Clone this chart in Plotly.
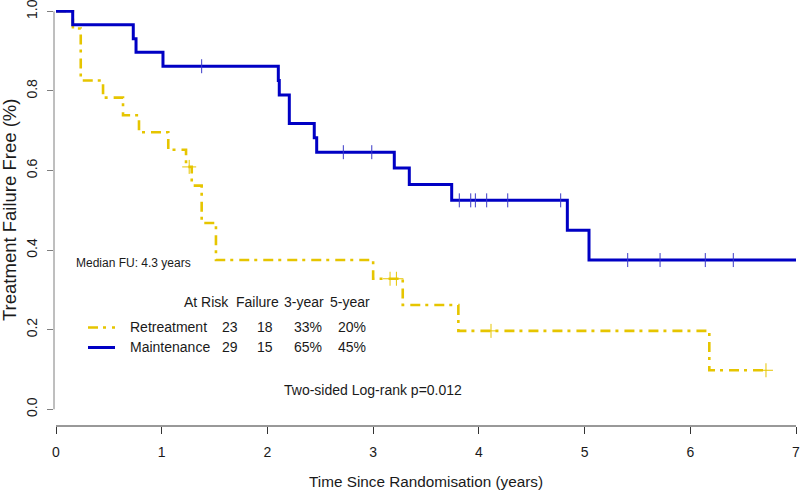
import plotly.graph_objects as go

# ---------------- data ----------------
retreat_times = [0.0, 0.16, 0.234, 0.445, 0.634, 0.785, 1.062, 1.230, 1.284, 1.378, 1.513, 3.000, 3.280, 3.806, 6.180, 6.716]
retreat_surv = [1.0, 0.957, 0.826, 0.783, 0.739, 0.696, 0.652, 0.609, 0.562, 0.468, 0.375, 0.328, 0.262, 0.197, 0.098, 0.098]
retreat_censor = [1.26, 3.16, 3.22, 4.115, 6.716]

maint_times = [0.0, 0.158, 0.731, 0.757, 1.012, 2.103, 2.112, 2.207, 2.443, 2.466, 3.200, 3.342, 3.743, 4.837, 5.042, 7.0]
maint_surv = [1.0, 0.966, 0.931, 0.897, 0.862, 0.826, 0.790, 0.718, 0.682, 0.646, 0.606, 0.565, 0.525, 0.450, 0.375, 0.375]
maint_censor = [1.378, 2.718, 2.987, 3.815, 3.923, 3.967, 4.074, 4.273, 4.774, 5.408, 5.714, 6.142, 6.407]

x_ticks = [0, 1, 2, 3, 4, 5, 6, 7]
y_ticks = [0.0, 0.2, 0.4, 0.6, 0.8, 1.0]
y_tick_labels = ["0.0", "0.2", "0.4", "0.6", "0.8", "1.0"]

legend_header = ["At Risk", "Failure", "3-year", "5-year"]
groups = ["Retreatment", "Maintenance"]
at_risk = ["23", "29"]
failures = ["18", "15"]
yr3 = ["33%", "65%"]
yr5 = ["20%", "45%"]

YELLOW = "#E6C500"
BLUE = "#0000C4"
FONT = "Liberation Sans, Arial, sans-serif"
TXT = "#1a1a1a"

# ---------------- layout geometry (pixels) ----------------
W, H = 800, 494
L, R, T, B = 54, 797, 10, 426
PPU = 740 / 7  # pixels per year


def px_x(p):
    return (p - L) / (R - L)


def px_y(p):
    return (B - p) / (B - T)


def step_value(times, surv, t):
    v = surv[0]
    for ti, si in zip(times, surv):
        if ti <= t:
            v = si
    return v


fig = go.Figure()

fig.add_trace(go.Scatter(
    x=retreat_times, y=retreat_surv, mode="lines", line_shape="hv",
    line=dict(color=YELLOW, width=2.6, dash="10px,5px,3px,6px"),
    hoverinfo="skip", showlegend=False))
fig.add_trace(go.Scatter(
    x=retreat_censor, y=[step_value(retreat_times, retreat_surv, t) for t in retreat_censor],
    mode="markers", marker=dict(symbol="cross-thin", size=10, line=dict(color=YELLOW, width=1)),
    hoverinfo="skip", showlegend=False))

fig.add_trace(go.Scatter(
    x=maint_times, y=maint_surv, mode="lines", line_shape="hv",
    line=dict(color=BLUE, width=3), hoverinfo="skip", showlegend=False))
fig.add_trace(go.Scatter(
    x=maint_censor, y=[step_value(maint_times, maint_surv, t) for t in maint_censor],
    mode="markers", marker=dict(symbol="line-ns", size=10, line=dict(color="#3a3ac8", width=1)),
    hoverinfo="skip", showlegend=False))

shapes = [
    # y axis line (R style, from 0 to 1)
    dict(type="line", xref="paper", yref="y", x0=0, x1=0, y0=0, y1=1,
         line=dict(color="#7f7f7f", width=1)),
    # x axis line (from 0 to 7)
    dict(type="line", xref="x", yref="paper", x0=0, x1=7, y0=0, y1=0,
         line=dict(color="#333333", width=1)),
    # legend samples
    dict(type="line", xref="paper", yref="paper", x0=px_x(88), x1=px_x(115),
         y0=px_y(327.5), y1=px_y(327.5),
         line=dict(color=YELLOW, width=2.6, dash="10px,5px,3px,6px")),
    dict(type="line", xref="paper", yref="paper", x0=px_x(88), x1=px_x(115),
         y0=px_y(347.5), y1=px_y(347.5), line=dict(color=BLUE, width=3)),
]

annotations = []


def add_text(text, xc, yc, size, anchor="center", angle=0):
    annotations.append(dict(
        text=text, xref="paper", yref="paper", x=px_x(xc), y=px_y(yc),
        xanchor=anchor, yanchor="middle", showarrow=False, textangle=angle,
        font=dict(family=FONT, size=size, color=TXT)))


# axis titles
add_text("Time Since Randomisation (years)", 425.5, 481.5, 15.3)
add_text("Treatment Failure Free (%)", 10, 210, 18.5, angle=-90)

# notes
add_text("Median FU: 4.3 years", 74, 262.7, 12, anchor="left")
add_text("Two-sided Log-rank p=0.012", 373.3, 390, 14)

# legend table
hdr_x = [206.7, 257.5, 304, 350]
for h, xc in zip(legend_header, hdr_x):
    add_text(h, xc, 301.7, 14)
row_y = [327.3, 347.3]
for i in range(2):
    add_text(groups[i], 127.7, row_y[i], 14, anchor="left")
    add_text(at_risk[i], 229.7, row_y[i], 14)
    add_text(failures[i], 264.5, row_y[i], 14)
    add_text(yr3[i], 308.2, row_y[i], 14)
    add_text(yr5[i], 351.5, row_y[i], 14)

fig.update_layout(
    width=W, height=H,
    margin=dict(l=L, r=W - R, t=T, b=H - B, pad=0, autoexpand=False),
    paper_bgcolor="white", plot_bgcolor="white",
    shapes=shapes, annotations=annotations,
    xaxis=dict(range=[-2 / PPU, 7.0 + 1 / PPU], tickmode="array", tickvals=x_ticks,
               ticktext=[str(v) for v in x_ticks],
               showgrid=False, zeroline=False, showline=False,
               ticks="outside", ticklen=7, tickcolor="#333333", tickwidth=1,
               ticklabelstandoff=6, automargin=False, ticklabeloverflow="allow",
               tickfont=dict(family=FONT, size=14, color=TXT)),
    yaxis=dict(range=[-0.042, 1.0033], tickmode="array", tickvals=y_ticks,
               ticktext=y_tick_labels, tickangle=-90,
               showgrid=False, zeroline=False, showline=False,
               ticks="outside", ticklen=6, tickcolor="#7f7f7f", tickwidth=1,
               ticklabelstandoff=4, automargin=False, ticklabeloverflow="allow",
               tickfont=dict(family=FONT, size=14, color=TXT)),
)

fig.write_html("out.html", config={"displayModeBar": False},
               post_script="document.body.style.margin='0';document.body.style.overflow='hidden';")
